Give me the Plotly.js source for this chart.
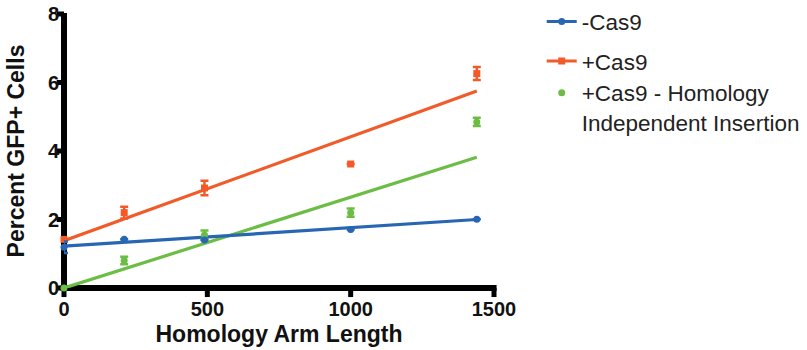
<!DOCTYPE html>
<html>
<head>
<meta charset="utf-8">
<script src="https://cdn.plot.ly/plotly-3.0.1.min.js"></script>
<style>html,body{margin:0;padding:0;background:#fff}#chart{width:807px;height:350px}</style>
</head>
<body>
<div id="chart"></div>
<script>
// Data
const armLength = [0, 210, 490, 1000, 1440];
const minusCas9 = [1.19, 1.42, 1.40, 1.71, 2.01];
const minusCas9Err = [0.17, 0, 0, 0, 0];
const plusCas9 = [1.42, 2.20, 2.92, 3.62, 6.26];
const plusCas9Err = [0, 0.17, 0.21, 0, 0.19];
const hiiCas9 = [0, 0.80, 1.55, 2.20, 4.85];
const hiiCas9Err = [0, 0.11, 0.13, 0.12, 0.12];
// Linear fit lines (endpoints)
const fitX = [0, 1440];
const minusFit = [1.22, 2.00];
const plusFit = [1.38, 5.75];
const hiiFit = [0, 3.82];
const xTicks = [0, 500, 1000, 1500];
const yTicks = [0, 2, 4, 6, 8];
const xRange = [0, 1500];
const yRange = [0, 8];
const names = ['-Cas9', '+Cas9', '+Cas9 - Homology<br>Independent Insertion'];

const BLUE = '#2866b3', ORANGE = '#f15a29', GREEN = '#6cbd45';
const FONT = 'Liberation Sans, Arial, Helvetica, sans-serif';

function dataTrace(y, err, color, symbol) {
  return {x: armLength, y: y, mode: 'markers', type: 'scatter', showlegend: false, cliponaxis: false,
    marker: {color: color, size: 7, symbol: symbol},
    error_y: {type: 'data', array: err, visible: true, color: color, thickness: 2.5, width: 4}};
}
function fitTrace(y, color) {
  return {x: fitX, y: y, mode: 'lines', type: 'scatter', showlegend: false, cliponaxis: false,
    line: {color: color, width: 3.2}, hoverinfo: 'skip'};
}
function legendTrace(name, mode, color, symbol, legendId) {
  return {x: [null], y: [null], mode: mode, type: 'scatter', name: name, legend: legendId,
    marker: {color: color, size: 7, symbol: symbol}, line: {color: color, width: 3}};
}

const traces = [
  fitTrace(hiiFit, GREEN), fitTrace(plusFit, ORANGE), fitTrace(minusFit, BLUE),
  dataTrace(hiiCas9, hiiCas9Err, GREEN, 'circle'),
  dataTrace(plusCas9, plusCas9Err, ORANGE, 'square'),
  dataTrace(minusCas9, minusCas9Err, BLUE, 'circle'),
  legendTrace(names[0], 'lines+markers', BLUE, 'circle', 'legend'),
  legendTrace(names[1], 'lines+markers', ORANGE, 'square', 'legend2'),
  legendTrace(names[2], 'markers', GREEN, 'circle', 'legend3')
];

// Thick black axis lines and ticks (GraphPad style), placed in paper units via the axis ranges
const px = v => (v - xRange[0]) / (xRange[1] - xRange[0]);
const py = v => (v - yRange[0]) / (yRange[1] - yRange[0]);
const shapes = [
  {type: 'line', xref: 'paper', yref: 'paper', x0: -0.008, x1: 1.006, y0: py(0), y1: py(0), layer: 'below', line: {color: '#000', width: 6}},
  {type: 'line', xref: 'paper', yref: 'paper', x0: px(0), x1: px(0), y0: -0.01, y1: 1.004, layer: 'below', line: {color: '#000', width: 6}}
];
xTicks.forEach(v => shapes.push({type: 'line', xref: 'paper', yref: 'paper', x0: px(v), x1: px(v), y0: 0, y1: -0.033,
  layer: 'below', line: {color: '#000', width: 5}}));
yTicks.forEach(v => shapes.push({type: 'line', xref: 'paper', yref: 'paper', x0: 0, x1: -0.017, y0: py(v), y1: py(v),
  layer: 'below', line: {color: '#000', width: 5}}));

const axisCommon = {showgrid: false, zeroline: false, showline: false, automargin: false,
  ticks: 'outside', tickcolor: 'rgba(0,0,0,0)', tickwidth: 1,
  tickfont: {size: 20, weight: 'bold', color: '#111'}};

const legendBase = {x: 1.111, xanchor: 'left', yanchor: 'top', valign: 'top', bgcolor: 'rgba(0,0,0,0)',
  font: {size: 22.5, family: FONT, color: '#222'}};

const layout = {
  width: 807, height: 350,
  margin: {l: 64, r: 313, t: 14, b: 62, autoexpand: false},
  paper_bgcolor: '#fff', plot_bgcolor: 'rgba(0,0,0,0)',
  font: {family: FONT, color: '#111'},
  showlegend: true,
  shapes: shapes,
  legend: Object.assign({}, legendBase, {y: 1.05}),
  legend2: Object.assign({}, legendBase, {y: 0.906}),
  legend3: Object.assign({}, legendBase, {y: 0.79}),
  xaxis: Object.assign({}, axisCommon, {range: xRange, tickvals: xTicks, ticktext: xTicks.map(String), ticklen: 3,
    title: {text: 'Homology Arm Length', font: {size: 23, weight: 'bold', color: '#111'}, standoff: 6}}),
  yaxis: Object.assign({}, axisCommon, {range: yRange, tickvals: yTicks, ticktext: yTicks.map(String), ticklen: 0,
    title: {text: 'Percent GFP+ Cells', font: {size: 23, weight: 'bold', color: '#111'}, standoff: 16}})
};

Plotly.newPlot('chart', traces, layout, {staticPlot: true, displayModeBar: false});
</script>
</body>
</html>
